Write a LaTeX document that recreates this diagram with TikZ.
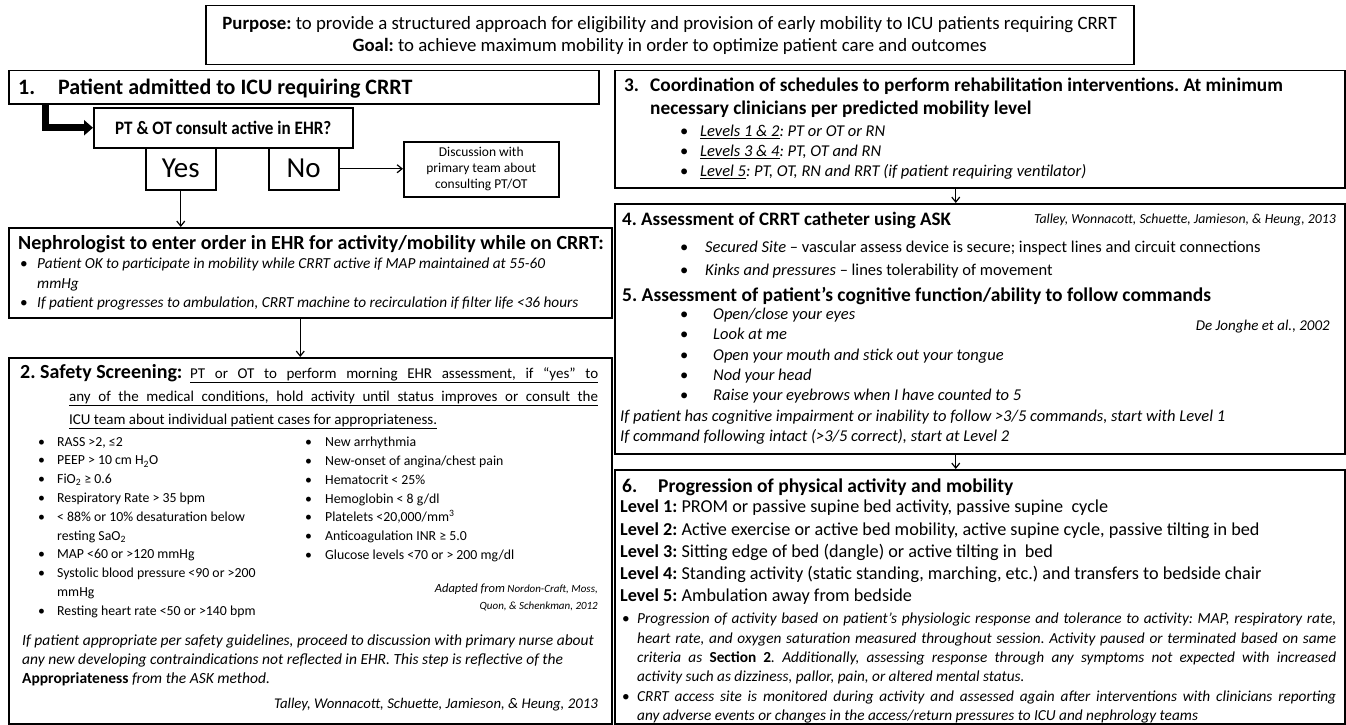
\documentclass[tikz,border=0pt]{standalone}
\usepackage{fontspec}
\setmainfont{Carlito}
\usetikzlibrary{arrows.meta,positioning}
\frenchspacing

\newcommand{\fsz}[2]{\fontsize{#1}{#2}\selectfont}
\newcommand{\bul}[1]{\makebox[#1][l]{\upshape•}}

\tikzset{
  box/.style={draw, line width=1.5pt, anchor=north west, inner sep=0pt},
  txt/.style={anchor=north west, inner sep=0pt, align=left},
  conn/.style={-{Straight Barb[length=5pt,width=8pt]}, line width=1.2pt},
  fatarrow/.style={-{Triangle[length=9pt,width=15pt]}, line width=7pt}
}

\begin{document}
\begin{tikzpicture}[x=1pt,y=-1pt]
\fill[white] (0,0) rectangle (1346,725);
\useasboundingbox (0,0) rectangle (1346,725);

\node[box, minimum width=928pt, minimum height=59pt, align=center, font=\fsz{18.8}{22}] (purpose) at (205,5)
  {\textbf{Purpose:} to provide a structured approach for eligibility and provision of early mobility to ICU patients requiring CRRT\\
   \textbf{Goal:} to achieve maximum mobility in order to optimize patient care and outcomes};

% left column
\node[box, minimum width=590pt, minimum height=33pt] (admit) at (8,70) {};
\node[txt, anchor=base west, font=\fsz{22}{24}\bfseries] (admittxt) at (18,94) {\makebox[40pt][l]{1.}Patient admitted to ICU requiring CRRT};
\node[box, minimum width=259pt, minimum height=40pt, font=\fsz{19}{20}\bfseries\addfontfeature{FakeStretch=0.9}] (consult) at (93,107) {PT \& OT consult active in EHR?};
\node[box, minimum width=70pt, minimum height=42pt, font=\fsz{29}{30}] (yes) at (145,147) {Yes};
\node[box, minimum width=70pt, minimum height=42pt, font=\fsz{29}{30}] (no) at (268,147) {No};
\node[box, minimum width=155pt, minimum height=55pt, align=center, font=\fsz{13.5}{16}] (discuss) at (403,141)
  {Discussion with\\ primary team about\\ consulting PT/OT};

\node[box, minimum width=603pt, minimum height=90pt] (nephro) at (8,227) {};
\node[txt, font=\fsz{20}{22}\bfseries] (nephrohead) at (18,235) {Nephrologist to enter order in EHR for activity/mobility while on CRRT:};
\node[txt, font=\fsz{15.3}{19.5}\itshape] (nephrolist) at (20,258)
  {\bul{17pt}Patient OK to participate in mobility while CRRT active if MAP maintained at 55-60\\
   \hspace*{17pt}mmHg\\
   \bul{17pt}If patient progresses to ambulation, CRRT machine to recirculation if filter life <36 hours};

\node[box, minimum width=603pt, minimum height=366pt] (safety) at (8,357) {};
\node[txt, font=\fsz{15}{23}] (safetyhead) at (20,364)
  {\makebox[578pt]{{\fsz{20}{23}\textbf{2. Safety Screening:}}\hfill\underline{\makebox[408pt][s]{PT or OT to perform morning EHR assessment, if “yes” to}}}\\
   \hspace*{49pt}\underline{\makebox[529pt][s]{any of the medical conditions, hold activity until status improves or consult the}}\\
   \hspace*{49pt}\underline{ICU team about individual patient cases for appropriateness.}};
\node[txt, font=\fsz{13.8}{18.8}] (leftlist) at (38,437)
  {\bul{19pt}RASS >2, ≤2\\
   \bul{19pt}PEEP > 10 cm H\textsubscript{2}O\\
   \bul{19pt}FiO\textsubscript{2} ≥ 0.6\\
   \bul{19pt}Respiratory Rate > 35 bpm\\
   \bul{19pt}< 88\% or 10\% desaturation below\\
   \hspace*{19pt}resting SaO\textsubscript{2}\\
   \bul{19pt}MAP <60 or >120 mmHg\\
   \bul{19pt}Systolic blood pressure <90 or >200\\
   \hspace*{19pt}mmHg\\
   \bul{19pt}Resting heart rate <50 or >140 bpm};
\node[txt, font=\fsz{13.8}{18.8}] (rightlist) at (305,437)
  {\bul{20pt}New arrhythmia\\
   \bul{20pt}New-onset of angina/chest pain\\
   \bul{20pt}Hematocrit < 25\%\\
   \bul{20pt}Hemoglobin < 8 g/dl\\
   \bul{20pt}Platelets <20,000/mm\textsuperscript{3}\\
   \bul{20pt}Anticoagulation INR ≥ 5.0\\
   \bul{20pt}Glucose levels <70 or > 200 mg/dl};
\node[txt, anchor=north east, align=right, font=\fsz{11}{17}\itshape] (adapted) at (598,584)
  {{\fsz{12.5}{17}Adapted from} Nordon-Craft, Moss,\\ Quon, \& Schenkman, 2012};
\node[txt, font=\fsz{15.5}{19}\itshape] (approp) at (22,635)
  {If patient appropriate per safety guidelines, proceed to discussion with primary nurse about\\
   any new developing contraindications not reflected in EHR. This step is reflective of the\\
   \textbf{\upshape Appropriateness} from the ASK method.};
\node[txt, anchor=north east, font=\fsz{14.8}{19}\itshape] (talleyleft) at (598,698) {Talley, Wonnacott, Schuette, Jamieson, \& Heung, 2013};

% right column
\node[box, minimum width=730pt, minimum height=117pt] (coord) at (614,70) {};
\node[txt, font=\fsz{19.3}{23}\bfseries] (coordhead) at (624,78)
  {\makebox[26pt][l]{3.}Coordination of schedules to perform rehabilitation interventions. At minimum\\
   \hspace*{26pt}necessary clinicians per predicted mobility level};
\node[txt, font=\fsz{16.5}{20}\itshape] (coordlist) at (680,125)
  {\bul{20pt}\underline{Levels 1 \& 2}: PT or OT or RN\\
   \bul{20pt}\underline{Levels 3 \& 4}: PT, OT and RN\\
   \bul{20pt}\underline{Level 5}: PT, OT, RN and RRT (if patient requiring ventilator)};

\node[box, minimum width=730pt, minimum height=250pt] (assess) at (614,203) {};
\node[txt, font=\fsz{19}{22}\bfseries] (askhead) at (622,212) {4. Assessment of CRRT catheter using ASK};
\node[txt, anchor=north east, font=\fsz{13.8}{15}\itshape] (talleyright) at (1336,214) {Talley, Wonnacott, Schuette, Jamieson, \& Heung, 2013};
\node[txt, font=\fsz{16.5}{23}] (asklist) at (680,241)
  {\bul{25pt}\textit{Secured Site} – vascular assess device is secure; inspect lines and circuit connections\\
   \bul{25pt}\textit{Kinks and pressures} – lines tolerability of movement};
\node[txt, font=\fsz{19.5}{22}\bfseries] (coghead) at (622,287) {5. Assessment of patient’s cognitive function/ability to follow commands};
\node[txt, font=\fsz{16.5}{20.3}\itshape] (coglist) at (680,308)
  {\bul{33pt}Open/close your eyes\\
   \bul{33pt}Look at me\\
   \bul{33pt}Open your mouth and stick out your tongue\\
   \bul{33pt}Nod your head\\
   \bul{33pt}Raise your eyebrows when I have counted to 5};
\node[txt, anchor=north east, font=\fsz{15}{15}\itshape] (dejonghe) at (1330,320) {De Jonghe et al., 2002};
\node[txt, font=\fsz{16.5}{20}\itshape] (cogrule) at (620,410)
  {If patient has cognitive impairment or inability to follow >3/5 commands, start with Level 1\\
   If command following intact (>3/5 correct), start at Level 2};

\node[box, minimum width=730pt, minimum height=254pt] (progress) at (614,469) {};
\node[txt, font=\fsz{19.5}{22}\bfseries] (proghead) at (622,479) {\makebox[36pt][l]{6.}Progression of physical activity and mobility};
\node[txt, font=\fsz{18.2}{22.2}] (levels) at (620,500)
  {\textbf{Level 1:} PROM or passive supine bed activity, passive supine\ \ cycle\\
   \textbf{Level 2:} Active exercise or active bed mobility, active supine cycle, passive tilting in bed\\
   \textbf{Level 3:} Sitting edge of bed (dangle) or active tilting in\ \ bed\\
   \textbf{Level 4:} Standing activity (static standing, marching, etc.) and transfers to bedside chair\\
   \textbf{Level 5:} Ambulation away from bedside};
\node[txt, text width=714pt, align=justify, font=\fsz{15.3}{19.3}\itshape] (prognotes) at (622,613)
  {\hangindent=15pt\hangafter=1\noindent\bul{15pt}Progression of activity based on patient’s physiologic response and tolerance to activity: MAP, respiratory rate,\linebreak
   heart rate, and oxygen saturation measured throughout session. Activity paused or terminated based on same\linebreak
   criteria as \textbf{\upshape Section 2}. Additionally, assessing response through any symptoms not expected with increased\linebreak
   activity such as dizziness, pallor, pain, or altered mental status.\par
   \hangindent=15pt\hangafter=1\noindent\bul{15pt}CRRT access site is monitored during activity and assessed again after interventions with clinicians reporting\linebreak
   any adverse events or changes in the access/return pressures to ICU and nephrology teams\par};

% connectors
\draw[fatarrow] ([xshift=37pt]admit.south west) |- (consult.west);
\draw[conn] (no.east) -- (no.east -| discuss.west);
\draw[conn] (yes.south) -- (yes.south |- nephro.north);
\draw[conn] ([xshift=-10pt]nephro.south) -- ([xshift=-10pt]safety.north);
\draw[conn] ([xshift=-24pt]coord.south) -- ([xshift=-24pt]assess.north);
\draw[conn] ([xshift=-24pt]assess.south) -- ([xshift=-24pt]progress.north);
\end{tikzpicture}
\end{document}
